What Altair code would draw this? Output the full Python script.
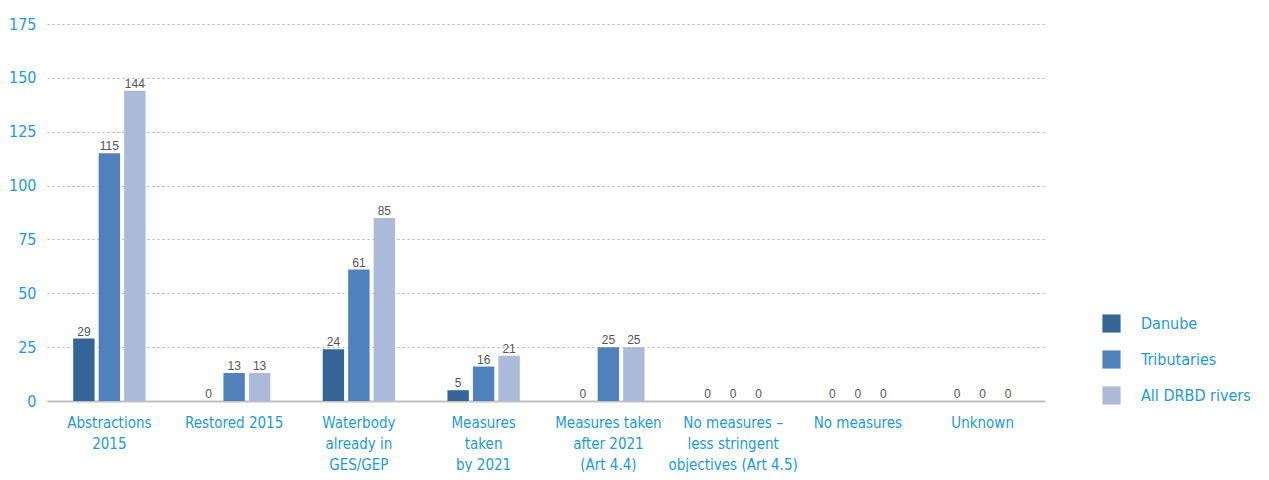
import altair as alt
import pandas as pd

categories = [
    "Abstractions|2015",
    "Restored 2015",
    "Waterbody|already in|GES/GEP",
    "Measures|taken|by 2021",
    "Measures taken|after 2021|(Art 4.4)",
    "No measures –|less stringent|objectives (Art 4.5)",
    "No measures",
    "Unknown",
]
series = ["Danube", "Tributaries", "All DRBD rivers"]
danube = [29, 0, 24, 5, 0, 0, 0, 0]
tributaries = [115, 13, 61, 16, 25, 0, 0, 0]
all_drbd = [144, 13, 85, 21, 25, 0, 0, 0]
colors = ["#356597", "#4f81bd", "#aabad8"]

rows = []
for i, c in enumerate(categories):
    for s, vals in zip(series, [danube, tributaries, all_drbd]):
        rows.append({"category": c, "series": s, "value": vals[i]})
df = pd.DataFrame(rows)

font_axis = "DejaVu Sans Condensed, Roboto, sans-serif"
blue_txt = "#1b9ad6"

x = alt.X("category:N", sort=categories, title=None,
          scale=alt.Scale(paddingInner=0.42, paddingOuter=0.21),
          axis=alt.Axis(labelExpr="split(datum.label, '|')", labelAngle=0,
                        labelFont=font_axis, labelFontSize=15, labelColor=blue_txt,
                        labelPadding=14, labelLineHeight=21, ticks=False,
                        domainColor="#c0c0c0", domainWidth=2, labelBaseline="top"))
xo = alt.XOffset("series:N", sort=series,
                 scale=alt.Scale(paddingInner=0.16, paddingOuter=0))
y = alt.Y("value:Q", title=None,
          scale=alt.Scale(domain=[0, 175], nice=False),
          axis=alt.Axis(values=[0, 25, 50, 75, 100, 125, 150, 175], domain=False,
                        ticks=False, labelFont=font_axis, labelFontSize=16,
                        labelColor=blue_txt, labelPadding=11,
                        gridColor="#b0b0b0", gridDash=[2, 3], gridWidth=1.2))

bars = alt.Chart(df).mark_bar().encode(
    x=x, xOffset=xo, y=y,
    color=alt.Color("series:N", sort=series,
                    scale=alt.Scale(domain=series, range=colors),
                    legend=alt.Legend(title=None, orient="none", legendX=1055, legendY=290,
                                      symbolType="square", symbolSize=330,
                                      symbolStrokeWidth=0, labelFont=font_axis,
                                      labelFontSize=16, labelColor=blue_txt,
                                      labelOffset=20, rowPadding=17,
                                      labelLimit=200)),
)

labels = alt.Chart(df).mark_text(dy=-7, fontSize=12, color="#555555",
                                 font="Liberation Sans").encode(
    x=x, xOffset=xo, y=y, text="value:Q")

chart = (bars + labels).properties(
    width=998, height=377,
    padding={"left": 39, "top": 16, "right": 216, "bottom": 71},
    autosize=alt.AutoSizeParams(type="none"),
).configure_view(stroke=None)

chart.save("out.html", embed_options={"renderer": "svg", "actions": False})
